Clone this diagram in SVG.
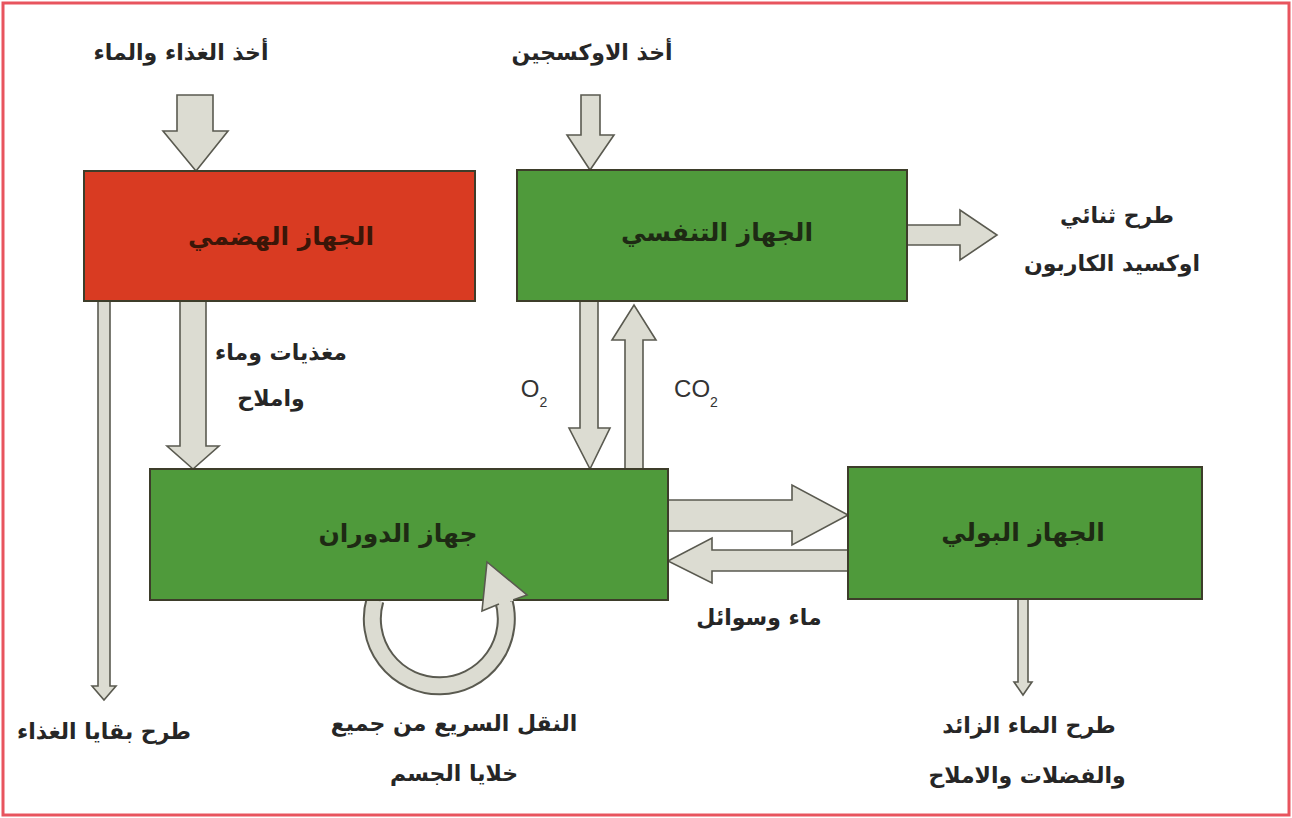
<svg xmlns="http://www.w3.org/2000/svg" width="1292" height="818" viewBox="0 0 1292 818">
<style>
.bx{stroke:#3d3d2a;stroke-width:2}
.red{fill:#d93b22}
.grn{fill:#4f9a3b}
.ar{fill:#dcdcd2;stroke:#5a5a50;stroke-width:1.6;stroke-linejoin:miter}
.t{font-family:"DejaVu Sans",sans-serif;font-weight:bold;font-size:22px;fill:#262626;text-anchor:middle}
.bt{font-family:"DejaVu Sans",sans-serif;font-weight:bold;font-size:25px;fill:#1e2a14;text-anchor:middle}
.lt{font-family:"Liberation Sans",Arial,sans-serif;font-size:24px;fill:#333;text-anchor:middle}
</style>
<rect x="0" y="0" width="1292" height="818" fill="#fff"/>
<rect x="3" y="3" width="1286" height="812" fill="none" stroke="#e8545e" stroke-width="3"/>

<g id="connectors">
  <path class="ar" d="M177,95 H213 V131 H228 L196,171 L163,131 H177 Z"/>
  <path class="ar" d="M581,95 H600 V135 H614 L590,170 L567,135 H581 Z"/>
  <path class="ar" d="M98,301 H110 V686 H116 L104,700 L92,686 H98 Z"/>
  <path class="ar" d="M180,301 H206 V446 H219 L193,469 L167,446 H180 Z"/>
  <path class="ar" d="M580,301 H598 V428 H610 L590,469 L569,428 H580 Z"/>
  <path class="ar" d="M625,469 H643 V340 H656 L634,305 L612,340 H625 Z"/>
  <path class="ar" d="M907,225 H960 V210 L997,235 L960,260 V245 H907 Z"/>
  <path class="ar" d="M668,500 H792 V485 L848,515 L792,545 V531 H668 Z"/>
  <path class="ar" d="M848,550 H712 V538 L668,561 L712,583 V571 H848 Z"/>
  <path class="ar" d="M1018,599 H1028 V682 H1032 L1023,695 L1014,682 H1018 Z"/>
  <path d="M375,600 A67,67 0 1 0 503,598" fill="none" stroke="#5a5a50" stroke-width="19"/>
  <path d="M375,600 A67,67 0 1 0 503,598" fill="none" stroke="#dcdcd2" stroke-width="15"/>
</g>

<g id="digestive">
  <rect class="bx red" x="84" y="171" width="391" height="130"/>
  <text class="bt" x="281" y="245" style="fill:#3a1608">الجهاز الهضمي</text>
</g>
<g id="respiratory">
  <rect class="bx grn" x="517" y="170" width="390" height="131"/>
  <text class="bt" x="717" y="241">الجهاز التنفسي</text>
</g>
<g id="circulatory">
  <rect class="bx grn" x="150" y="469" width="518" height="131"/>
  <text class="bt" x="398" y="542">جهاز الدوران</text>
</g>
<g id="urinary">
  <rect class="bx grn" x="848" y="467" width="354" height="132"/>
  <text class="bt" x="1023" y="541">الجهاز البولي</text>
</g>

<g id="loop-head">
  <path class="ar" d="M499,604 L482,611 L487,562 L527,595 L510,601"/>
  <path d="M496,600 L513,599" stroke="#dcdcd2" stroke-width="4"/>
</g>

<g id="labels">
  <text class="t" x="181" y="60">أخذ الغذاء والماء</text>
  <text class="t" x="592" y="60">أخذ الاوكسجين</text>
  <text class="t" x="1117" y="223">طرح ثنائي</text>
  <text class="t" x="1112" y="271">اوكسيد الكاربون</text>
  <text class="t" x="281" y="360">مغذيات وماء</text>
  <text class="t" x="271" y="406">واملاح</text>
  <text class="lt" x="534" y="397">O<tspan font-size="14" dy="10">2</tspan></text>
  <text class="lt" x="696" y="397">CO<tspan font-size="14" dy="10">2</tspan></text>
  <text class="t" x="759" y="625">ماء وسوائل</text>
  <text class="t" x="104" y="739">طرح بقايا الغذاء</text>
  <text class="t" x="454" y="731">النقل السريع من جميع</text>
  <text class="t" x="454" y="781">خلايا الجسم</text>
  <text class="t" x="1029" y="733">طرح الماء الزائد</text>
  <text class="t" x="1027" y="783">والفضلات والاملاح</text>
</g>
</svg>
